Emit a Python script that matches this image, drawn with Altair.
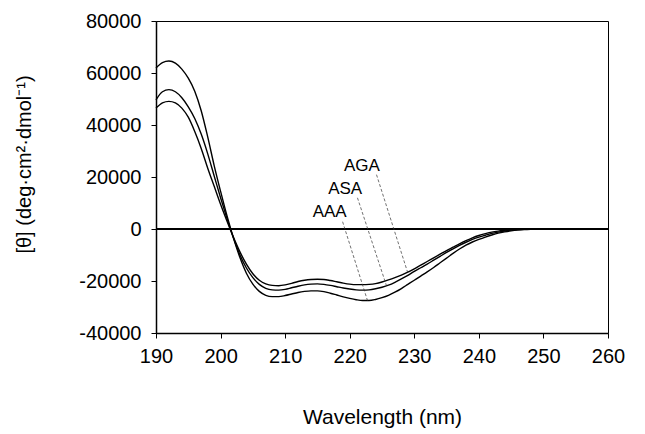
import altair as alt
import pandas as pd

# ---- data ----
WAVELENGTH = list(range(190, 251)) + [255, 260]

AAA = [61900, 64000, 64600, 63800, 61500, 58000, 53000, 45500, 35500, 24500,
       14500, 5000, -3500, -11000, -17000, -21200, -24000, -25500, -26000, -26000,
       -25600, -25000, -24400, -24000, -23800, -23800, -24100, -24700, -25400, -26100,
       -26700, -27200, -27500, -27500, -27100, -26400, -25500, -24300, -22900, -21300,
       -19700, -18100, -16500, -14800, -13000, -11200, -9400, -7700, -6200, -5000,
       -4000, -3100, -2300, -1600, -1100, -700, -400, -200, -80, -20,
       0, 0, 0]

ASA = [49700, 52800, 53600, 52800, 50500, 47000, 42500, 36500, 29000, 20500,
       12000, 4000, -3500, -10000, -15000, -18700, -21300, -22800, -23400, -23500,
       -23200, -22600, -22000, -21500, -21200, -21100, -21300, -21700, -22200, -22700,
       -23100, -23400, -23500, -23400, -23000, -22400, -21600, -20500, -19200, -17800,
       -16300, -14900, -13500, -12000, -10500, -9000, -7600, -6300, -5100, -4000,
       -3100, -2400, -1700, -1200, -800, -450, -250, -120, -40, -10,
       0, 0, 0]

AGA = [46500, 48500, 49100, 48500, 46500, 43000, 37500, 31000, 23500, 16500,
       9500, 3000, -3200, -8800, -13500, -17200, -19700, -21100, -21700, -21800,
       -21500, -20900, -20200, -19700, -19400, -19300, -19400, -19800, -20300, -20800,
       -21200, -21400, -21400, -21300, -21000, -20400, -19600, -18700, -17700, -16600,
       -15300, -13900, -12500, -11100, -9700, -8300, -7000, -5700, -4500, -3400,
       -2500, -1800, -1200, -800, -500, -300, -150, -60, -20, -5,
       0, 0, 0]

SERIES = ["AAA", "ASA", "AGA"]
LABEL_X = [216.9, 219.3, 221.9]
LABEL_Y = [6400, 15300, 24150]
LEADER_X1 = [218.9, 221.2, 224.15]
LEADER_Y1 = [2800, 12000, 20900]
LEADER_X2 = [222.75, 225.7, 228.96]
LEADER_Y2 = [-27500, -21850, -16600]

Y_TICKS = [-40000, -20000, 0, 20000, 40000, 60000, 80000]
X_TICKS = [190, 200, 210, 220, 230, 240, 250, 260]

# ---- tables ----
rows = []
for name, vals in zip(SERIES, [AAA, ASA, AGA]):
    for w, v in zip(WAVELENGTH, vals):
        rows.append({"wl": w, "theta": v, "series": name})
df = pd.DataFrame(rows)

labels_df = pd.DataFrame({"name": SERIES, "x": LABEL_X, "y": LABEL_Y})
leaders_df = pd.DataFrame({"x": LEADER_X1, "y": LEADER_Y1, "x2": LEADER_X2, "y2": LEADER_Y2})
zero_df = pd.DataFrame({"y": [0]})

FONT = "Liberation Sans"
LABEL_EXPR = "datum.value < 0 ? '-' + format(-datum.value, 'd') : format(datum.value, 'd')"
xscale = alt.Scale(domain=[190, 260], nice=False, zero=False)
yscale = alt.Scale(domain=[-40000, 80000], nice=False)

xaxis = alt.Axis(values=X_TICKS, title="Wavelength (nm)", labelExpr=LABEL_EXPR,
                 titlePadding=40, titleFontSize=21, labelFontSize=20,
                 labelPadding=8, tickSize=5, labelFlush=False)
yaxis = alt.Axis(values=Y_TICKS, title="[θ] (deg·cm²·dmol⁻¹)", labelExpr=LABEL_EXPR,
                 titlePadding=44, titleFontSize=20, labelFontSize=20,
                 labelPadding=10, tickSize=5, titleY=143, labelFlush=False)

lines = alt.Chart(df).mark_line(color="black", strokeWidth=1.4, interpolate="monotone").encode(
    x=alt.X("wl:Q", scale=xscale, axis=xaxis),
    y=alt.Y("theta:Q", scale=yscale, axis=yaxis),
    detail="series:N",
)

zero = alt.Chart(zero_df).mark_rule(color="black", strokeWidth=2).encode(
    y=alt.Y("y:Q", scale=yscale),
    x=alt.value(0), x2=alt.value(452),
)

leaders = alt.Chart(leaders_df).mark_rule(color="#333333", strokeWidth=0.7, strokeDash=[3, 2]).encode(
    x=alt.X("x:Q", scale=xscale), y=alt.Y("y:Q", scale=yscale),
    x2="x2:Q", y2="y2:Q",
)

texts = alt.Chart(labels_df).mark_text(font=FONT, fontSize=17, color="black",
                                       align="center", baseline="middle").encode(
    x=alt.X("x:Q", scale=xscale), y=alt.Y("y:Q", scale=yscale), text="name:N",
)

chart = alt.layer(lines, zero, leaders, texts).properties(
    width=452, height=312,
    padding={"left": 148, "top": 13, "right": 29, "bottom": 100},
    autosize="none",
).configure_view(stroke="black", strokeWidth=1).configure_axis(
    grid=False, labelFont=FONT, titleFont=FONT, labelColor="black", titleColor="black",
    titleFontWeight="normal", domainColor="black", domainWidth=1.5, tickColor="black",
)

chart.save("out.html", embed_options={"renderer": "svg", "actions": False})
